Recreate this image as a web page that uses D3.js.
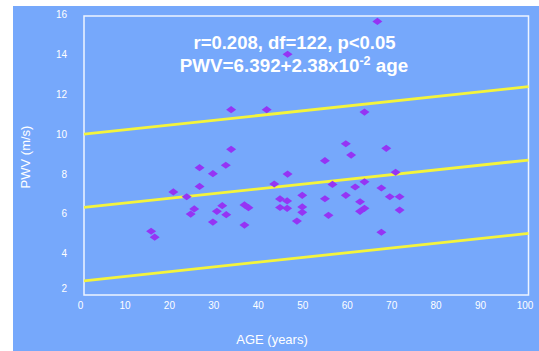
<!DOCTYPE html>
<html>
<head>
<meta charset="utf-8">
<script src="https://cdn.jsdelivr.net/npm/d3@7"></script>
<style>
  html, body { margin: 0; padding: 0; background: #ffffff; }
  svg { display: block; font-family: "Liberation Sans", Arial, sans-serif; }
</style>
</head>
<body>
<svg id="chart" width="539" height="351"></svg>
<script>
// Age (years) and pulse wave velocity (m/s) of each subject
const ages = [
  33.1, 41.1, 33.1, 26.0, 31.9, 29.0, 26.0, 20.1, 23.1, 42.8,
  24.8, 24.0, 31.1, 29.9, 32.0, 36.1, 37.0, 29.0, 36.1, 15.1,
  15.9, 44.1, 45.7, 44.1, 45.7,
  63.1, 58.9, 68.0, 60.1, 54.2, 45.8, 70.1, 55.9, 63.1, 61.0,
  66.9, 58.9, 49.1, 54.2, 68.8, 71.0, 62.1, 49.1, 49.1, 63.1,
  62.1, 71.0, 55.0, 47.9, 66.9,
  66.0, 45.8
];
const pwv = [
  11.30, 11.30, 9.31, 8.39, 8.51, 8.09, 7.45, 7.17, 6.93, 7.57,
  6.32, 6.06, 6.48, 6.20, 6.03, 6.52, 6.38, 5.66, 5.51, 5.20,
  4.90, 6.82, 6.72, 6.39, 6.35,
  11.18, 9.59, 9.36, 9.02, 8.74, 8.07, 8.16, 7.55, 7.68, 7.42,
  7.37, 7.00, 7.00, 6.83, 6.93, 6.93, 6.68, 6.42, 6.15, 6.35,
  6.20, 6.26, 6.00, 5.71, 5.15,
  15.73, 14.08
];

// Regression: PWV = 6.392 + 0.0238 * age, with a band of +/- 3.68 m/s
const intercept = 6.392;
const slope = 0.0238;
const bandOffsets = [3.68, 0, -3.68];

const xTicks = [0, 10, 20, 30, 40, 50, 60, 70, 80, 90, 100];
const yTicks = [2, 4, 6, 8, 10, 12, 14, 16];

const statsLine = "r=0.208, df=122, p<0.05";
const eqLine = ["PWV=6.392+2.38x10", "-2", " age"];

const svg = d3.select("#chart");
const plot = { left: 84, right: 528.5, top: 16, bottom: 295 };

const x = d3.scaleLinear().domain([0, 100]).range([plot.left, plot.right]);
const y = d3.scaleLinear().domain([2, 16]).range([plot.bottom, plot.top]);

// Slide background
svg.append("rect")
  .attr("x", 13).attr("y", 6)
  .attr("width", 526).attr("height", 345)
  .attr("fill", "#76a8fb");

// Plot frame
svg.append("rect")
  .attr("x", plot.left).attr("y", plot.top)
  .attr("width", plot.right - plot.left).attr("height", plot.bottom - plot.top)
  .attr("fill", "none")
  .attr("stroke", "#eef4ff")
  .attr("stroke-width", 1.5);

// X axis labels
const xAxis = d3.axisBottom(x).tickValues(xTicks).tickSize(0).tickPadding(0);
const gx = svg.append("g")
  .attr("transform", `translate(0,${plot.bottom})`)
  .call(xAxis);
gx.select(".domain").remove();
gx.selectAll("text")
  .attr("fill", "#ffffff")
  .attr("font-size", 10)
  .attr("dx", -4)
  .attr("y", 14)
  .attr("dy", 0);

// Y axis labels
const yAxis = d3.axisLeft(y).tickValues(yTicks).tickSize(0).tickPadding(0);
const gy = svg.append("g")
  .attr("transform", `translate(${plot.left - 17},0)`)
  .call(yAxis);
gy.select(".domain").remove();
gy.selectAll(".tick")
  .attr("transform", d => `translate(0,${Math.min(y(d) - 1, plot.bottom - 6)})`);
gy.selectAll("text")
  .attr("fill", "#ffffff")
  .attr("font-size", 10);

// Axis titles
svg.append("text")
  .attr("x", 272).attr("y", 344)
  .attr("text-anchor", "middle")
  .attr("fill", "#ffffff")
  .attr("font-size", 13)
  .text("AGE (years)");

svg.append("text")
  .attr("transform", "translate(30,157) rotate(-90)")
  .attr("text-anchor", "middle")
  .attr("fill", "#ffffff")
  .attr("font-size", 13)
  .text("PWV (m/s)");

// Regression line and band limits
const line = d3.line().x(d => x(d[0])).y(d => y(d[1]));
svg.append("g").selectAll("path")
  .data(bandOffsets)
  .join("path")
  .attr("d", off => line([[0, intercept + off], [100, intercept + off + slope * 100]]))
  .attr("fill", "none")
  .attr("stroke", "#f4f43c")
  .attr("stroke-width", 2.8);

// Subjects as diamonds
const diamond = "M0,-3.6L5,0L0,3.6L-5,0Z";
svg.append("g").selectAll("path")
  .data(ages.map((a, i) => [a, pwv[i]]))
  .join("path")
  .attr("transform", d => `translate(${x(d[0])},${y(d[1])})`)
  .attr("d", diamond)
  .attr("fill", "#9534f4");

// Statistics annotation
svg.append("text")
  .attr("x", 294.5).attr("y", 49)
  .attr("text-anchor", "middle")
  .attr("fill", "#ffffff")
  .attr("font-size", 18.5)
  .attr("font-weight", "bold")
  .text(statsLine);

const eq = svg.append("text")
  .attr("x", 294).attr("y", 72)
  .attr("text-anchor", "middle")
  .attr("fill", "#ffffff")
  .attr("font-size", 18.8)
  .attr("font-weight", "bold");
eq.append("tspan").text(eqLine[0]);
eq.append("tspan").attr("font-size", 12.5).attr("dy", -7).text(eqLine[1]);
eq.append("tspan").attr("dy", 7).text(eqLine[2]);
</script>
</body>
</html>
